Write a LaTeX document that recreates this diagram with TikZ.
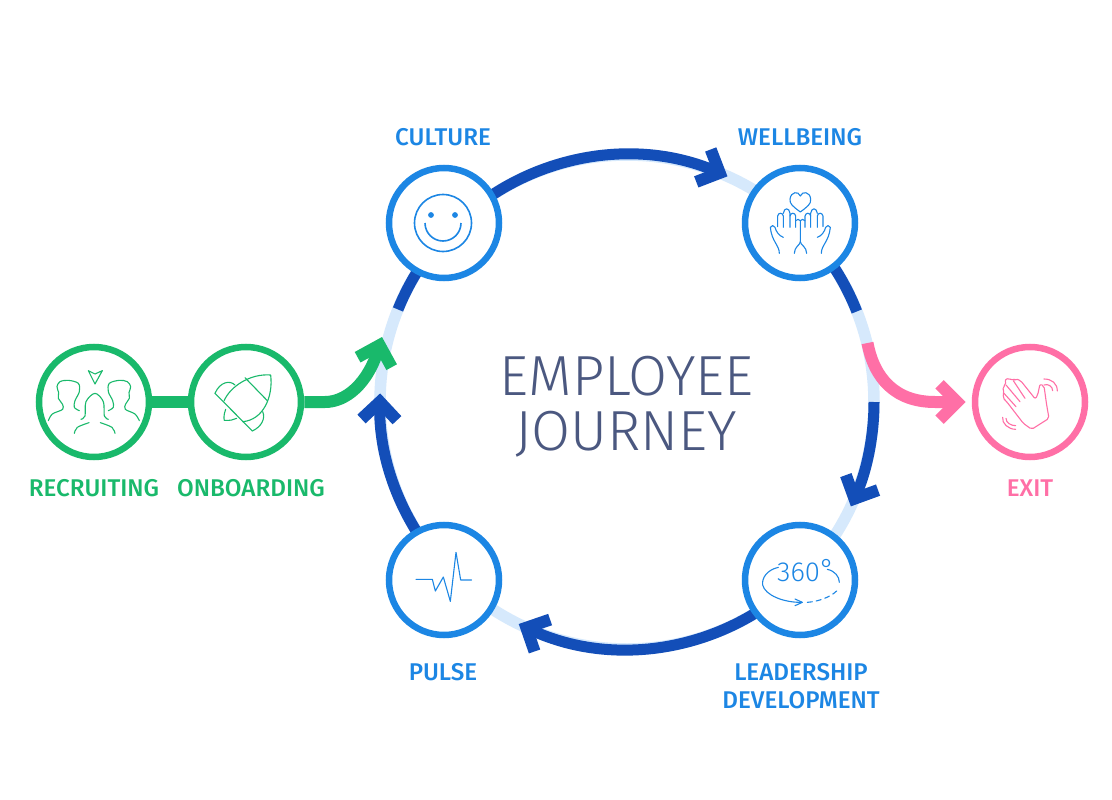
\documentclass[tikz,border=0pt]{standalone}
\usepackage{fontspec}
\setmainfont{Fira Sans}[UprightFont={* Medium}]
\newfontfamily\lightf{Fira Sans}[UprightFont={* Light}]
\usetikzlibrary{arrows.meta,calc}
\definecolor{pale}{HTML}{D6E9FC}
\definecolor{deep}{HTML}{134EB8}
\definecolor{sky}{HTML}{1C86E4}
\definecolor{grn}{HTML}{19B96B}
\definecolor{pnk}{HTML}{FF6FA6}
\definecolor{slate}{HTML}{4B5880}
\pgfdeclarearrow{
  name=Chev,
  setup code={%
    \pgfarrowssettipend{0pt}%
    \pgfarrowssetlineend{-10pt}%
    \pgfarrowssetvisualbackend{-17pt}%
    \pgfarrowssetbackend{-30.5pt}%
    \pgfarrowshullpoint{0pt}{0pt}%
    \pgfarrowshullpoint{-30.5pt}{22pt}%
    \pgfarrowshullpoint{-30.5pt}{-22pt}%
  },
  drawing code={%
    \pgfsetlinewidth{12pt}\pgfsetmiterjoin\pgfsetbuttcap
    \pgfsetmiterlimit{10}%
    \pgfpathmoveto{\pgfqpoint{-26.25pt}{17.75pt}}%
    \pgfpathlineto{\pgfqpoint{-8.5pt}{0pt}}%
    \pgfpathlineto{\pgfqpoint{-26.25pt}{-17.75pt}}%
    \pgfusepathqstroke
  },
}
\tikzset{
  stage/.style={circle,draw=#1,line width=6.5pt,fill=white,minimum size=110pt,inner sep=0pt},
  lbl/.style={text=#1,font=\fontsize{24.2}{24.2}\selectfont,anchor=base,inner sep=0pt},
  title/.style={text=slate,font=\lightf\fontsize{56.5}{56.5}\selectfont,anchor=base,inner sep=0pt},
  ring/.style={pale,line width=11.5pt},
  bar/.style={deep,line width=11pt},
  chev/.style={-{Chev}},
  icon/.style={line width=1.1pt,line join=round,line cap=round},
}
\begin{document}
\begin{tikzpicture}[x=1pt,y=1pt,yscale=-1]
\useasboundingbox (0,0) rectangle (1112,800);
\fill[white] (0,0) rectangle (1112,800);
\coordinate (hub) at (627,402);
\draw[ring] (hub) circle[radius=247pt];
% ring end points
\coordinate (a1) at ([shift={(-136:247)}]hub);
\coordinate (a2) at ([shift={(-46:247)}]hub);
\coordinate (a5) at ([shift={(0:247)}]hub);
\coordinate (a6) at ([shift={(46:247)}]hub);
\coordinate (a7) at ([shift={(136:247)}]hub);
\coordinate (a8) at ([shift={(224:247)}]hub);
% dark arcs
\draw[bar,chev] (a1) arc[start angle=-136,end angle=-66,radius=247pt];
\draw[bar] (a2) arc[start angle=-46,end angle=-21.5,radius=247pt];
\draw[bar,chev] (a5) arc[start angle=0,end angle=25,radius=247pt];
\draw[bar,chev] (a6) arc[start angle=46,end angle=116,radius=247pt];
\draw[bar,chev] (a7) arc[start angle=136,end angle=182,radius=247pt];
\draw[bar] (a8) arc[start angle=224,end angle=202,radius=247pt];
% stages
\node[stage=sky] (culture) at (444,223) {};
\node[stage=sky] (wellbeing) at (800,223) {};
\node[stage=sky] (leadership) at (800,580) {};
\node[stage=sky] (pulse) at (444,580) {};
\node[stage=grn] (recruiting) at (94,402) {};
\node[stage=grn] (onboarding) at (246,402) {};
\node[stage=pnk] (exit) at (1030,402) {};
% green and pink links
\coordinate (gtip) at (382,337);
\coordinate (ptail) at (867.5,343);
\draw[grn,line width=12pt] (recruiting) -- (onboarding);
\draw[grn,line width=12pt,chev] (onboarding.east) -- (325,402) .. controls (345,402) and (368,385) .. (gtip);
\draw[pnk,line width=12pt,chev,shorten >=6pt] (ptail) .. controls (874,378) and (895,402) .. (935,402) -- (exit.west);
% labels
\node[lbl=sky] at (443,146) {CULTURE};
\node[lbl=sky] at (800,146) {WELLBEING};
\node[lbl=sky] at (443,680) {PULSE};
\node[lbl=sky] at (801,680) {LEADERSHIP};
\node[lbl=sky] at (801,708) {DEVELOPMENT};
\node[lbl=grn] at (94,496) {RECRUITING};
\node[lbl=grn] at (251,496) {ONBOARDING};
\node[lbl=pnk] at (1030,496) {EXIT};
\node[title] at (626.5,395) {EMPLOYEE};
\node[title] at (626,450) {JOURNEY};
% smile
\begin{scope}[sky]
\draw[line width=1.6pt] (443,223) circle[radius=28.5pt];
\fill (431,215) circle[radius=2.9pt] (455,215) circle[radius=2.9pt];
\draw[line width=1.6pt] (425,223) arc[start angle=180,end angle=0,radius=18pt];
\end{scope}
% recruiting icon
\begin{scope}[shift={(20,330)},scale=1/3,grn,icon]
\draw (205,122) -- (225,132) -- (247,122) -- (225,162) -- cycle;
\draw plot[smooth,tension=.55] coordinates {(85,272) (97,252) (128,238) (127,222) (115,205) (116,188) (111,170) (120,155) (145,151) (175,160) (178,185) (165,212) (163,232) (178,242)};
\draw plot[smooth,tension=.55] coordinates {(358,272) (345,252) (316,238) (317,222) (328,205) (327,188) (332,170) (322,155) (298,151) (268,160) (265,185) (278,212) (280,232) (265,242)};
\draw plot[smooth,tension=.55] coordinates {(183,268) (195,258) (198,215) (225,190) (250,215) (253,258) (265,268)};
\draw plot[smooth,tension=.55] coordinates {(163,310) (172,292) (207,278)};
\draw plot[smooth,tension=.55] coordinates {(285,310) (276,292) (241,278)};
\end{scope}
% rocket icon
\begin{scope}[shift={(20,330)},scale=1/3,grn,icon]
\draw (585,190) -- (697,303);
\draw (675,143) -- (742,212);
\draw (612,213) .. controls (630,170) and (690,130) .. (752,135) .. controls (760,200) and (730,270) .. (668,275);
\draw (585,190) .. controls (600,155) and (630,150) .. (645,165);
\draw (617,238) .. controls (610,255) and (612,270) .. (613,271) .. controls (630,272) and (640,270) .. (650,265);
\draw (697,303) .. controls (725,290) and (737,265) .. (728,245);
\end{scope}
% wellbeing icon
\begin{scope}[shift={(690,130)},scale=1/3,sky,icon]
\draw (331,246) .. controls (310,230) and (298,222) .. (300,207) .. controls (303,185) and (325,182) .. (331,198) .. controls (337,182) and (360,185) .. (362,207) .. controls (364,222) and (352,230) .. (331,246);
\draw (331,272) -- (331,335) .. controls (331,345) and (313,350) .. (313,370);
\draw (331,335) .. controls (331,345) and (350,350) .. (350,370);
\foreach \m in {0,1}{
\begin{scope}[shift={(662*\m,0)},xscale=1-2*\m]
\draw (268,370) .. controls (268,345) and (245,335) .. (241,292) .. controls (243,285) and (253,285) .. (255,292) .. controls (258,305) and (268,318) .. (280,322);
\draw (263,290) -- (263,258) .. controls (265,247) and (278,247) .. (280,258) -- (280,292);
\draw (280,250) .. controls (282,232) and (298,232) .. (300,250) -- (300,292);
\draw (300,258) .. controls (302,247) and (315,247) .. (317,258) -- (317,292);
\draw (317,272) .. controls (322,267) and (327,267) .. (331,272);
\end{scope}}
\end{scope}
% 360 icon
\node[text=sky,font=\lightf\fontsize{27.5}{27.5}\selectfont,inner sep=0pt,anchor=base west] (deg) at (777,581) {360\raisebox{3pt}{°}};
\begin{scope}[shift={(730,510)},scale=1/3,sky,icon]
\draw (145,172) .. controls (110,180) and (95,205) .. (98,225) .. controls (105,255) and (160,278) .. (215,277);
\draw (195,267) -- (217,277) -- (195,287);
\draw[dash pattern=on 5pt off 4pt] (232,277) .. controls (270,275) and (315,255) .. (326,235);
\draw (292,178) .. controls (315,183) and (328,200) .. (328,217);
\end{scope}
% pulse icon
\begin{scope}[shift={(375,510)},scale=1/3,sky,icon]
\draw (123,208) -- (172,208) -- (181,243) -- (205,201) -- (226,274) -- (243,127) -- (257,210) -- (290,210);
\end{scope}
% wave icon
\begin{scope}[shift={(850,330)},scale=1/3,pnk,icon]
\draw[rounded corners=2pt] (545,298) -- (597,265) -- (590,225) -- (582,168) -- (570,162) -- (563,195) -- (556,207) -- (512,152) -- (497,146) -- (490,152) -- (478,145) -- (465,148) -- (468,165) -- (458,170) -- (462,190) -- (458,203) -- (470,215) -- (520,280) -- cycle;
\draw (490,152) -- (525,205) (468,165) -- (510,215) (462,190) -- (498,230);
\draw (582,147) .. controls (605,147) and (622,160) .. (622,183);
\draw (582,165) .. controls (595,160) and (608,170) .. (608,182);
\draw (458,262) .. controls (455,280) and (475,298) .. (497,298);
\draw (468,265) .. controls (468,278) and (482,287) .. (497,287);
\end{scope}
\end{tikzpicture}
\end{document}
